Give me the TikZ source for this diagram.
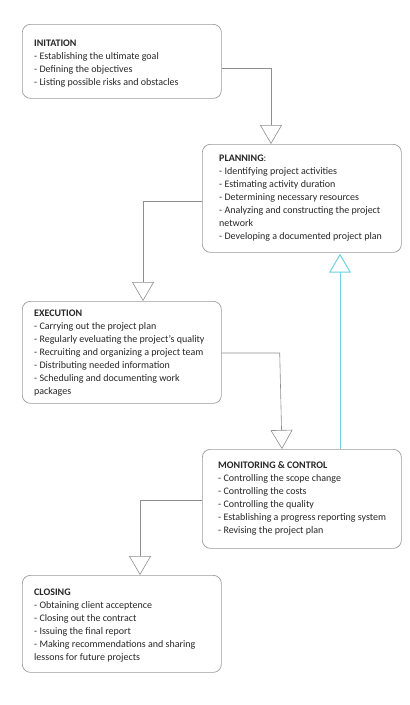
\documentclass[tikz,border=0pt]{standalone}
\usepackage{fontspec}
\setmainfont{Carlito}
\usetikzlibrary{arrows.meta,calc}
\definecolor{boxgray}{HTML}{9A9A9A}
\definecolor{linegray}{HTML}{8E8E8E}
\definecolor{cyanline}{HTML}{6FD0E0}
\tikzset{
  stagebox/.style={draw=boxgray, line width=0.7pt, rounded corners=8pt, minimum width=199pt, inner sep=0pt, anchor=north west},
  stagetext/.style={anchor=north west, inner sep=0pt, align=left, text=black!85, font=\fontsize{10}{13}\selectfont},
  conn/.style={draw=linegray, line width=0.6pt, -{Triangle[open, length=19pt, width=22pt, fill=white]}},
  connc/.style={draw=cyanline, line width=1pt, -{Triangle[open, length=19pt, width=22pt, fill=white]}}
}
\begin{document}
\begin{tikzpicture}[x=1pt,y=-1pt]
\useasboundingbox (0,0) rectangle (410,705);
% boxes
\node[stagebox, minimum height=74pt] (init) at (22,24) {};
\node[stagebox, minimum height=108pt] (plan) at (202,144) {};
\node[stagebox, minimum height=102pt] (exec) at (22,301) {};
\node[stagebox, minimum height=99pt] (mon) at (202,449) {};
\node[stagebox, minimum height=97pt] (close) at (22,575) {};
% texts
\node[stagetext] (tinit) at (34,39.5) {\textbf{INITATION}\\- Establishing the ultimate goal\\- Defining the objectives\\- Listing possible risks and obstacles};
\node[stagetext] (tplan) at (219,154.5) {\textbf{PLANNING}:\\- Identifying project activities\\- Estimating activity duration\\- Determining necessary resources\\- Analyzing and constructing\ the project\\network\\- Developing a documented project plan};
\node[stagetext] (texec) at (34,309.5) {\textbf{EXECUTION}\\- Carrying out the project plan\\- Regularly eveluating the project’s quality\\- Recruiting and organizing a project team\\- Distributing needed information\\- Scheduling and documenting work\\packages};
\node[stagetext] (tmon) at (218,461.5) {\textbf{MONITORING \& CONTROL}\\- Controlling the scope change\\- Controlling the costs\\- Controlling the quality\\- Establishing a progress reporting system\\- Revising the project plan};
\node[stagetext] (tclose) at (34,588.5) {\textbf{CLOSING}\\- Obtaining client acceptence\\- Closing out the contract\\- Issuing the final report\\- Making recommendations\ and sharing\\lessons for future\ projects};
% connector anchor points
\coordinate (a1) at ($(init.north east)+(0,44)$);
\coordinate (a2) at ($(plan.north west)+(69,0)$);
\coordinate (b1) at ($(plan.north west)+(0,57)$);
\coordinate (b2) at ($(exec.north west)+(121,0)$);
\coordinate (c1) at ($(exec.north east)+(0,52)$);
\coordinate (cb) at ($(exec.north east)+(58,52)$);
\coordinate (c2) at ($(mon.north west)+(80,0)$);
\coordinate (d1) at ($(mon.north west)+(0,51)$);
\coordinate (d2) at ($(close.north west)+(118,0)$);
\coordinate (e1) at ($(mon.north west)+(138,0)$);
\coordinate (e2) at ($(plan.south west)+(138,1)$);
\draw[conn] (a1) -| (a2);
\draw[conn] (b1) -| (b2);
\draw[conn] (c1) -- (cb) -- (c2);
\draw[conn] (d1) -| (d2);
\draw[connc] (e1) -- (e2);
\end{tikzpicture}
\end{document}
